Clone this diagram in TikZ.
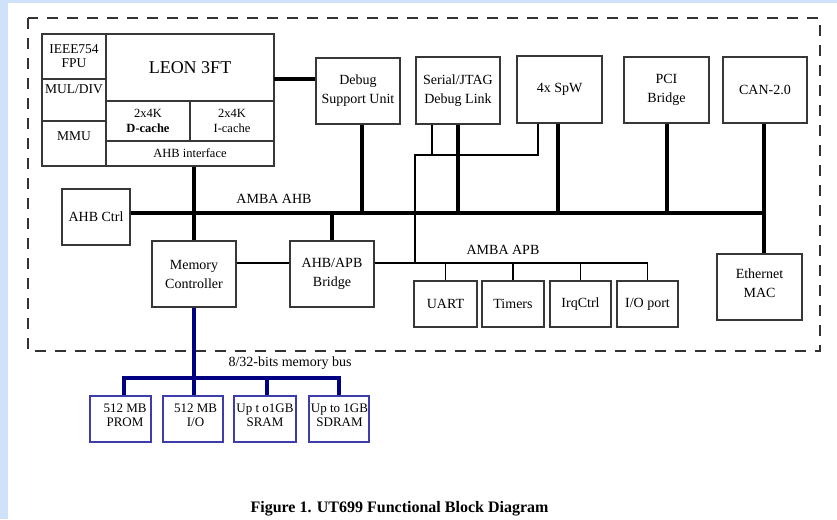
\documentclass[tikz,border=0pt]{standalone}
\usepackage{fontspec}
\setmainfont{Liberation Serif}
\definecolor{bgblue}{RGB}{208,226,249}
\definecolor{navybus}{RGB}{0,0,128}
\definecolor{memborder}{RGB}{60,60,170}
\definecolor{boxline}{RGB}{55,55,55}
\definecolor{dashline}{RGB}{50,50,50}
\newcommand\fsz[2]{\fontsize{#1}{#2}\selectfont}
\begin{document}
\begin{tikzpicture}[x=1pt,y=-1pt,
  box/.style={draw=boxline, line width=1.1pt, inner sep=0pt, align=center, font=\fsz{14}{19}},
  cell/.style={box, font=\fsz{13.5}{14}},
  small/.style={box, font=\fsz{12.5}{15}},
  membox/.style={draw=memborder, line width=1.1pt, inner sep=0pt},
  txt/.style={inner sep=0pt, align=center, font=\fsz{14}{19}},
  memtxt/.style={inner sep=0pt, align=center, font=\fsz{13}{14}},
  bus/.style={line width=4pt},
  wire/.style={line width=1.4pt},
  membus/.style={line width=4pt, draw=navybus, line join=miter},
  border/.style={draw=dashline, line width=1.2pt, dash pattern=on 11pt off 9pt}
]
\useasboundingbox (0,0) rectangle (837,519);
\fill[bgblue] (0,0) rectangle (837,519);
\fill[white] (8,3) rectangle (837,519);

% dashed chip border
\draw[border] (28,18) rectangle (820,351);

% LEON block
\node[cell, minimum width=64pt, minimum height=45pt] (fpu) at (74,56.5) {IEEE754\\FPU};
\node[cell, minimum width=64pt, minimum height=42pt] (muldiv) at (74,100) {};
\node[txt, font=\fsz{13.5}{14}] (muldivt) at (74,89) {MUL/DIV};
\node[cell, minimum width=64pt, minimum height=45pt] (mmu) at (74,143.5) {};
\node[txt, font=\fsz{13.5}{14}] (mmut) at (74,136) {MMU};
\node[box, minimum width=168pt, minimum height=67pt, font=\fsz{18}{20}] (leon) at (190,67.5) {LEON 3FT};
\node[small, minimum width=84pt, minimum height=40pt] (dcache) at (148,121) {2x4K\\\textbf{D-cache}};
\node[small, minimum width=84pt, minimum height=40pt] (icache) at (232,121) {2x4K\\I-cache};
\node[small, minimum width=168pt, minimum height=25pt] (ahbif) at (190,153.5) {AHB interface};

% top peripherals
\node[box, minimum width=84pt, minimum height=66pt] (dsu) at (358,91) {Debug\\Support Unit};
\node[box, minimum width=84pt, minimum height=67pt] (jtag) at (458,90.5) {Serial/JTAG\\Debug Link};
\node[box, minimum width=85pt, minimum height=67pt] (spw) at (559.5,89.5) {4x SpW};
\node[box, minimum width=85pt, minimum height=66pt] (pci) at (666.5,90) {PCI\\Bridge};
\node[box, minimum width=84pt, minimum height=66pt] (can) at (765,90) {CAN-2.0};

% middle row
\node[box, minimum width=68pt, minimum height=56pt] (ahbctrl) at (96,217) {AHB Ctrl};
\node[box, minimum width=84pt, minimum height=66pt] (memctrl) at (194,274) {Memory\\Controller};
\node[box, minimum width=84pt, minimum height=66pt] (bridge) at (332,274) {AHB/APB\\Bridge};
\node[box, minimum width=63pt, minimum height=46pt] (uart) at (445.5,304) {UART};
\node[box, minimum width=62pt, minimum height=46pt] (timers) at (513,304) {Timers};
\node[box, minimum width=61pt, minimum height=46pt] (irq) at (580.5,304) {IrqCtrl};
\node[box, minimum width=61pt, minimum height=46pt] (io) at (647.5,304) {I/O port};
\node[box, minimum width=85pt, minimum height=66pt] (eth) at (759.5,287) {};
\node[txt] (etht) at (759.5,283.5) {Ethernet\\MAC};

% memories
\node[membox, minimum width=61pt, minimum height=46pt] (prom) at (120.5,419) {};
\node[memtxt] (promt) at (125,415) {512 MB\\PROM};
\node[membox, minimum width=60pt, minimum height=46pt] (iomem) at (193,419) {};
\node[memtxt] (iomemt) at (195.5,415) {512 MB\\I/O};
\node[membox, minimum width=62pt, minimum height=46pt] (sram) at (265,419) {};
\node[memtxt] (sramt) at (265,415) {Up t o1GB\\SRAM};
\node[membox, minimum width=60pt, minimum height=46pt] (sdram) at (339,419) {};
\node[memtxt] (sdramt) at (339.5,415) {Up to 1GB\\SDRAM};

% labels
\node[txt] (ahblbl) at (274,199) {AMBA AHB};
\node[txt] (apblbl) at (503,250) {AMBA APB};
\node[txt] (mblbl) at (290,363) {8/32-bits memory bus};
\node[inner sep=0pt, font=\bfseries\fsz{16}{18}] (caption) at (399.5,509) {Figure 1. UT699 Functional Block Diagram};

% coordinates
\coordinate (lc) at (274,79);
\coordinate (ahbR) at (764,213);
\coordinate (apb) at (0,263);
\coordinate (jt) at (432,155);
\coordinate (jl) at (415,155);
\coordinate (sp) at (538,155);
\coordinate (mb) at (0,378);

% AHB connections
\draw[bus] (lc) -- (lc -| dsu.west);
\draw[bus] (ahbctrl.east |- ahbR) -- (ahbR);
\draw[bus] (can.south -| ahbR) -- (ahbR |- eth.north);
\draw[bus] (ahbif.south -| memctrl.north) -- (memctrl.north);
\draw[bus] ([xshift=4pt]dsu.south) -- ([xshift=4pt]dsu.south |- ahbR);
\draw[bus] (jtag.south) -- (jtag.south |- ahbR);
\draw[bus] ([xshift=-1.5pt]spw.south) -- ([xshift=-1.5pt]spw.south |- ahbR);
\draw[bus] (pci.south) -- (pci.south |- ahbR);
\draw[bus] (bridge.north |- ahbR) -- (bridge.north);

% thin wires
\draw[wire] (jt |- jtag.south) -- (jt);
\draw[wire] (sp |- spw.south) -- (sp) -- (jl) -- (jl |- apb);
\draw[wire] (memctrl.east |- apb) -- (bridge.west |- apb);
\draw[wire] (bridge.east |- apb) -| (io.north);
\foreach \n in {uart,timers,irq} \draw[wire] (\n.north |- apb) -- (\n.north);

% memory bus
\draw[membus] (memctrl.south) -- (memctrl.south |- iomem.north);
\draw[membus] ([xshift=3.5pt]prom.north) -- ([xshift=3.5pt]prom.north |- mb) -| (sdram.north);
\draw[membus] ([xshift=2pt]sram.north |- mb) -- ([xshift=2pt]sram.north);
\end{tikzpicture}
\end{document}
